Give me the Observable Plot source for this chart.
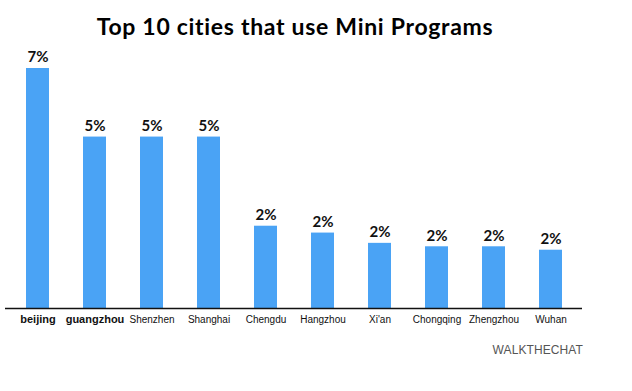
<!DOCTYPE html>
<html>
<head>
<meta charset="utf-8">
<script src="https://cdn.jsdelivr.net/npm/d3@7"></script>
<script src="https://cdn.jsdelivr.net/npm/@observablehq/plot@0.6"></script>
<style>
  html, body { margin: 0; padding: 0; background: #fff; }
  #wrap { position: relative; width: 632px; height: 391px; overflow: hidden; }
  #title { position: absolute; left: 0; width: 590px; top: 15px; text-align: center;
           font-family: Lato, "Open Sans", sans-serif; font-weight: 700; font-size: 23px;
           letter-spacing: 0.7px; line-height: 23px; color: #000; white-space: nowrap; }
  #caption { position: absolute; right: 49px; top: 344px; font-family: "Liberation Sans", Arial, sans-serif;
             font-size: 12px; line-height: 12px; color: #555; letter-spacing: 0.1px; }
  #chart { position: absolute; left: 0; top: 0; }
</style>
</head>
<body>
<div id="wrap">
  <div id="chart"></div>
  <div id="title">Top 10 cities that use Mini Programs</div>
  <div id="caption">WALKTHECHAT</div>
</div>
<script>
const cities = ["beijing", "guangzhou", "Shenzhen", "Shanghai", "Chengdu", "Hangzhou", "Xi'an", "Chongqing", "Zhengzhou", "Wuhan"];
const shares = [7.0, 5.0, 5.0, 5.0, 2.4, 2.2, 1.9, 1.8, 1.8, 1.7];
const shareLabels = ["7%", "5%", "5%", "5%", "2%", "2%", "2%", "2%", "2%", "2%"];
const boldCities = ["beijing", "guangzhou"];

const data = cities.map((c, i) => ({city: c, share: shares[i], label: shareLabels[i]}));

const chart = Plot.plot({
  width: 632,
  height: 391,
  marginTop: 68,
  marginBottom: 83,
  marginLeft: 5,
  marginRight: 50,
  style: {background: "transparent", overflow: "visible"},
  x: {domain: cities, paddingInner: 0.6, paddingOuter: 0.35, axis: null},
  y: {domain: [0, 7], axis: null},
  marks: [
    Plot.barY(data, {x: "city", y: "share", fill: "#4aa3f5"}),
    Plot.ruleY([0], {stroke: "#111", strokeWidth: 1.6}),
    Plot.text(data, {x: "city", y: "share", text: "label", dy: -11, fill: "#111",
      fontFamily: "Lato, sans-serif", fontWeight: 700, fontSize: 15}),
    Plot.text(data.filter(d => boldCities.includes(d.city)), {x: "city", y: () => 0, text: "city", dy: 11,
      fill: "#111", fontFamily: "Liberation Sans, Arial, sans-serif", fontWeight: 700, fontSize: 11}),
    Plot.text(data.filter(d => !boldCities.includes(d.city)), {x: "city", y: () => 0, text: "city", dy: 11,
      fill: "#111", fontFamily: "Liberation Sans, Arial, sans-serif", fontWeight: 400, fontSize: 10})
  ]
});
document.getElementById("chart").appendChild(chart);
</script>
</body>
</html>
